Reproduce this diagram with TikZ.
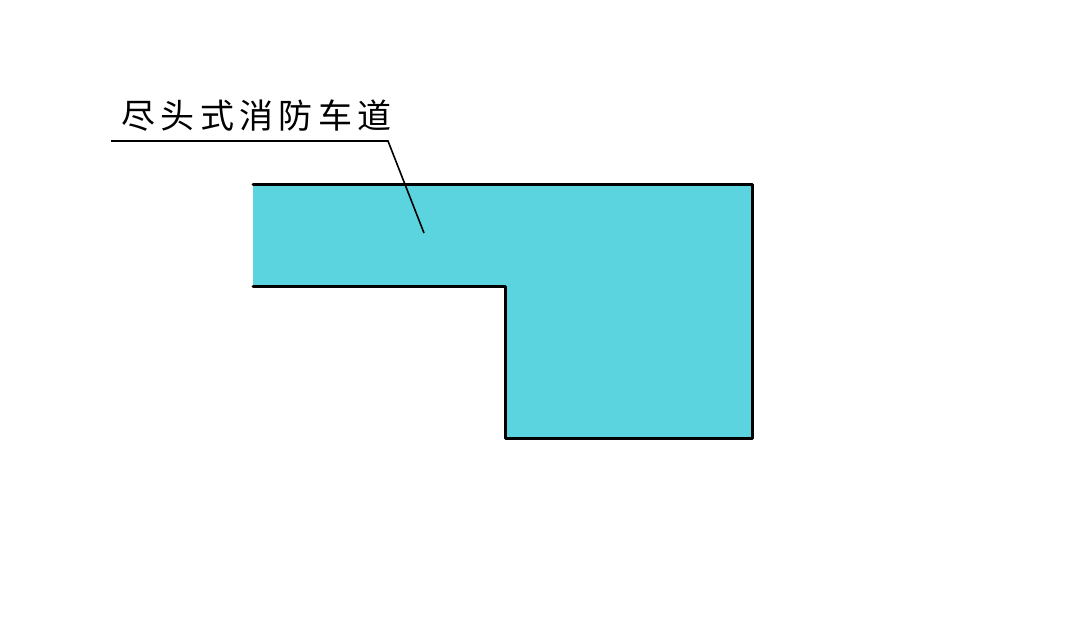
\documentclass[tikz,border=0pt]{standalone}
\usepackage{fontspec}
\newfontfamily\cjk[LetterSpace=16]{Noto Sans CJK SC}
\definecolor{road}{RGB}{92,212,224}
\tikzset{
  outline/.style={line width=3pt, black, line cap=round, line join=round},
  leader/.style={line width=1.6pt, black},
  lbl/.style={font=\cjk\fontsize{34}{34}\selectfont, inner sep=0pt, anchor=base west}
}
\begin{document}
\begin{tikzpicture}[x=1pt,y=-1pt]
\useasboundingbox (0,0) rectangle (1080,617);
% fill
\fill[road] (253,185) -- (752,185) -- (752,439) -- (505,439) -- (505,287) -- (253,287) -- cycle;
% outline (left end open)
\draw[outline] (253,185) -- (752,185) -- (752,439) -- (505,439) -- (505,287) -- (253,287);
% label
\node[lbl] (t) at (121,129) {尽头式消防车道};
\coordinate (u0) at (111,141);
\coordinate (u1) at (388,141);
\coordinate (tip) at (424,233);
\draw[leader] (u0) -- (u1) -- (tip);
\end{tikzpicture}
\end{document}
